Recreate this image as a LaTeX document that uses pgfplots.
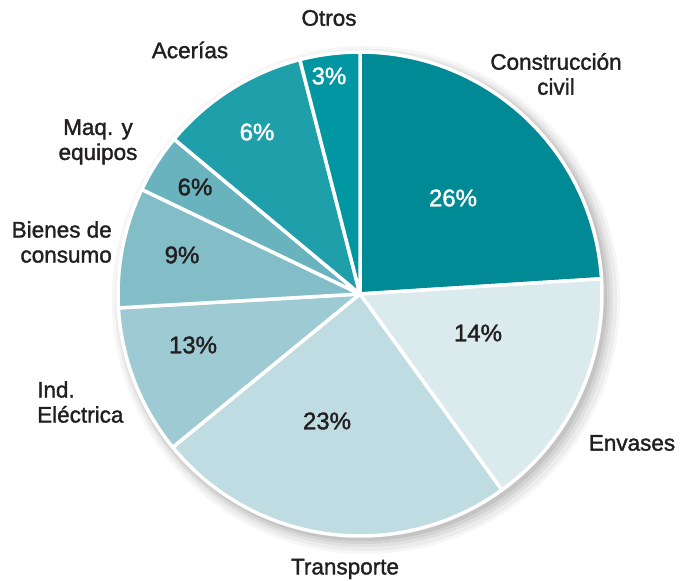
\documentclass[border=0pt]{standalone}
\usepackage{pgfplots}
\pgfplotsset{compat=1.18}
\usepackage{pgfplotstable}
\usepackage{fontspec}
\setmainfont{Liberation Sans}
\newfontfamily\medfont[FakeBold=1.5]{Liberation Sans}
\definecolor{c1}{HTML}{008A95}
\definecolor{c2}{HTML}{DAEAED}
\definecolor{c3}{HTML}{BEDCE1}
\definecolor{c4}{HTML}{9DCAD3}
\definecolor{c5}{HTML}{83BEC8}
\definecolor{c6}{HTML}{69B3BE}
\definecolor{c7}{HTML}{1F9FAA}
\definecolor{c8}{HTML}{0096A2}
\definecolor{dark}{HTML}{231F20}
\pgfplotstableread{
name   start   end     col pct px  py  tcol
constr 90      3.6     c1  26  453 198 white
envas  3.6     -54.1   c2  14  478 333 dark
transp -54.1   -140.7  c3  23  327 421 dark
ind    -140.7  -176.7  c4  13  193 345 dark
bienes -176.7  -205.6  c5  9   182 255 dark
maq    -205.6  -219.8  c6  6   195 187 dark
acer   -219.8  -255.6  c7  6   257 132 white
otros  -255.6  -270    c8  3   329 76  white
}\piedata
\begin{document}
\begin{tikzpicture}
\begin{axis}[width=689pt,height=581pt,scale only axis,
  xmin=0,xmax=689,ymin=0,ymax=581,hide axis,clip=false]
% soft shadow
\fill[black,opacity=0.035] (axis cs:366,281) circle[radius=254pt];
\fill[black,opacity=0.04] (axis cs:366,281) circle[radius=251pt];
\fill[black,opacity=0.05] (axis cs:365,282) circle[radius=248pt];
\fill[black,opacity=0.06] (axis cs:364,283) circle[radius=246pt];
\fill[black,opacity=0.07] (axis cs:363,284) circle[radius=244pt];
\pgfplotsinvokeforeach{0,...,7}{
  \pgfplotstablegetelem{#1}{start}\of\piedata \let\A\pgfplotsretval
  \pgfplotstablegetelem{#1}{end}\of\piedata \let\B\pgfplotsretval
  \pgfplotstablegetelem{#1}{col}\of\piedata \let\C\pgfplotsretval
  \edef\temp{\noexpand\fill[fill=\C,draw=white,line width=3.5pt,line join=round]
    (axis cs:360,287) -- ++(\A:242pt) arc[start angle=\A,end angle=\B,radius=242pt] -- cycle;}
  \temp
}
\pgfplotsinvokeforeach{0,...,7}{
  \pgfplotstablegetelem{#1}{pct}\of\piedata \let\P\pgfplotsretval
  \pgfplotstablegetelem{#1}{px}\of\piedata \let\X\pgfplotsretval
  \pgfplotstablegetelem{#1}{py}\of\piedata \let\Y\pgfplotsretval
  \pgfplotstablegetelem{#1}{tcol}\of\piedata \let\T\pgfplotsretval
  \edef\temp{\noexpand\node[text=\T,font=\noexpand\medfont\noexpand\fontsize{24}{26}\noexpand\selectfont]
    at (axis cs:\X,{581-\Y}) {\P\noexpand\%};}
  \temp
}
\tikzset{lab/.style={text=dark,font=\medfont\fontsize{22.5}{25}\selectfont,align=center,inner sep=0pt}}
\node[lab] at (axis cs:329,{581-18}) {Otros};
\node[lab] at (axis cs:556,{581-74}) {Construcción\\civil};
\node[lab] at (axis cs:632,{581-443}) {Envases};
\node[lab] at (axis cs:345,{581-569}) {Transporte};
\node[lab,align=left,anchor=west] at (axis cs:37,{581-402}) {Ind.\\Eléctrica};
\node[lab,align=right,anchor=east] at (axis cs:112,{581-242}) {Bienes de\\consumo};
\node[lab] at (axis cs:98,{581-142}) {Maq. y\\equipos};
\node[lab] at (axis cs:190,{581-50}) {Acerías};
\end{axis}
\pgfresetboundingbox
\path (current axis.south west) rectangle (current axis.north east);
\end{tikzpicture}
\end{document}
